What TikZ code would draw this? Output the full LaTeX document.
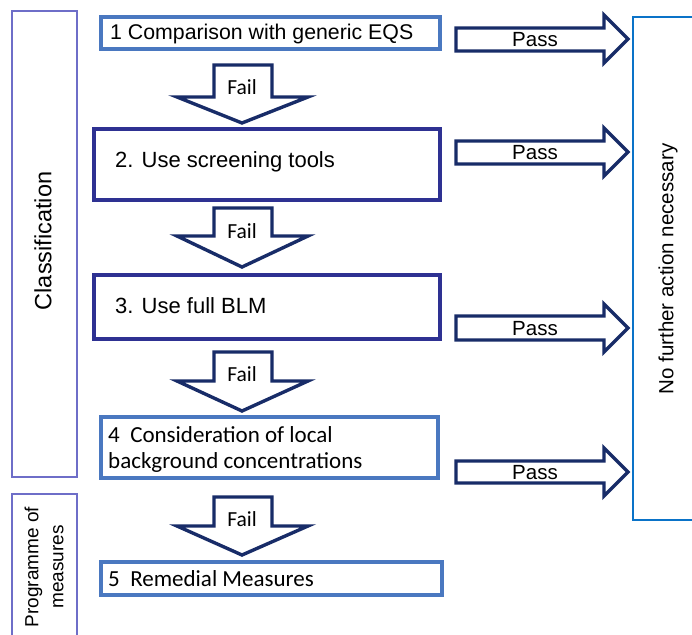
\documentclass[tikz,border=0pt]{standalone}
\usepackage{fontspec}
\setmainfont{Liberation Sans}
\newfontfamily\calfont{Carlito}
\definecolor{navy}{RGB}{24,44,104}
\definecolor{darkbox}{RGB}{46,49,146}
\definecolor{midbox}{RGB}{74,120,192}
\definecolor{sidebox}{RGB}{110,110,200}
\definecolor{rightbox}{RGB}{10,115,200}
\begin{document}
\begin{tikzpicture}[x=1pt,y=-1pt,
  blockarrow/.style={draw=navy,line width=3.4pt,line join=miter,fill=white},
  darkstep/.style={draw=darkbox,line width=3.4pt},
  midstep/.style={draw=midbox,line width=3.2pt},
  sideframe/.style={draw=sidebox,line width=1.5pt},
  lbl/.style={inner sep=0pt,anchor=base west},
  arial/.style={font=\fontsize{22}{26}\selectfont},
  calib/.style={font=\calfont\fontsize{23}{26}\selectfont},
  faillbl/.style={inner sep=0pt,anchor=base,font=\calfont\fontsize{21.5}{26}\selectfont},
  passlbl/.style={inner sep=0pt,anchor=base,font=\fontsize{20.5}{24}\selectfont}]
\useasboundingbox (0,0) rectangle (692,634);
\fill[white] (0,0) rectangle (692,634);
% side frames
\draw[sideframe] (12,11) rectangle (77,477);
\node[rotate=90,font=\fontsize{23.5}{28}\selectfont] (cls) at (43,241) {Classification};
\draw[sideframe] (12,640) -- (12,494) -- (77,494) -- (77,640);
\node[rotate=90,align=center,font=\fontsize{19}{25}\selectfont] (prog) at (44,567) {Programme of\\measures};
% right frame
\draw[draw=rightbox,line width=2.8pt] (700,17) -- (633,17) -- (633,520) -- (700,520);
\node[rotate=90,font=\fontsize{20.5}{24}\selectfont] (nfa) at (668,269) {No further action necessary};
% boxes
\draw[midstep] (101,17) rectangle (440,49);
\node[lbl,font=\fontsize{21.3}{25}\selectfont] (t1) at (110,40) {1\ Comparison with generic EQS};
\draw[darkstep] (94,129) rectangle (440,200);
\node[lbl,arial] (t2) at (115,167) {2. Use screening tools};
\draw[darkstep] (94,275) rectangle (440,339);
\node[lbl,arial] (t3) at (115,313) {3. Use full BLM};
\draw[midstep] (101,417) rectangle (438,478);
\node[lbl,calib] (t4a) at (108,442) {4\ \ Consideration of local};
\node[lbl,calib] (t4b) at (108,468) {background concentrations};
\draw[midstep] (101,562) rectangle (442,595);
\node[lbl,calib] (t5) at (108,586) {5\ \ Remedial Measures};
% fail arrows
\draw[blockarrow] (214,65) -- (272,65) -- (272,97) -- (308,97) -- (242,123) -- (177,97) -- (214,97) -- cycle;
\node[faillbl] (f1) at (242,94) {Fail};
\draw[blockarrow] (214,208) -- (272,208) -- (272,236) -- (308,236) -- (242,267) -- (177,236) -- (214,236) -- cycle;
\node[faillbl] (f2) at (242,238) {Fail};
\draw[blockarrow] (214,352) -- (272,352) -- (272,381) -- (308,381) -- (242,411) -- (177,381) -- (214,381) -- cycle;
\node[faillbl] (f3) at (242,381) {Fail};
\draw[blockarrow] (214,497) -- (272,497) -- (272,526) -- (308,526) -- (242,555) -- (177,526) -- (214,526) -- cycle;
\node[faillbl] (f4) at (242,526) {Fail};
% pass arrows
\draw[blockarrow] (456,28) -- (604,28) -- (604,15) -- (628,39) -- (604,63) -- (604,51) -- (456,51) -- cycle;
\node[passlbl] (p1) at (535,47) {Pass};
\draw[blockarrow] (456,141) -- (604,141) -- (604,128) -- (628,152) -- (604,176) -- (604,164) -- (456,164) -- cycle;
\node[passlbl] (p2) at (535,159) {Pass};
\draw[blockarrow] (456,316) -- (604,316) -- (604,304) -- (628,328) -- (604,352) -- (604,340) -- (456,340) -- cycle;
\node[passlbl] (p3) at (535,335) {Pass};
\draw[blockarrow] (456,461) -- (604,461) -- (604,448) -- (628,472) -- (604,496) -- (604,483) -- (456,483) -- cycle;
\node[passlbl] (p4) at (535,479) {Pass};
\end{tikzpicture}
\end{document}
